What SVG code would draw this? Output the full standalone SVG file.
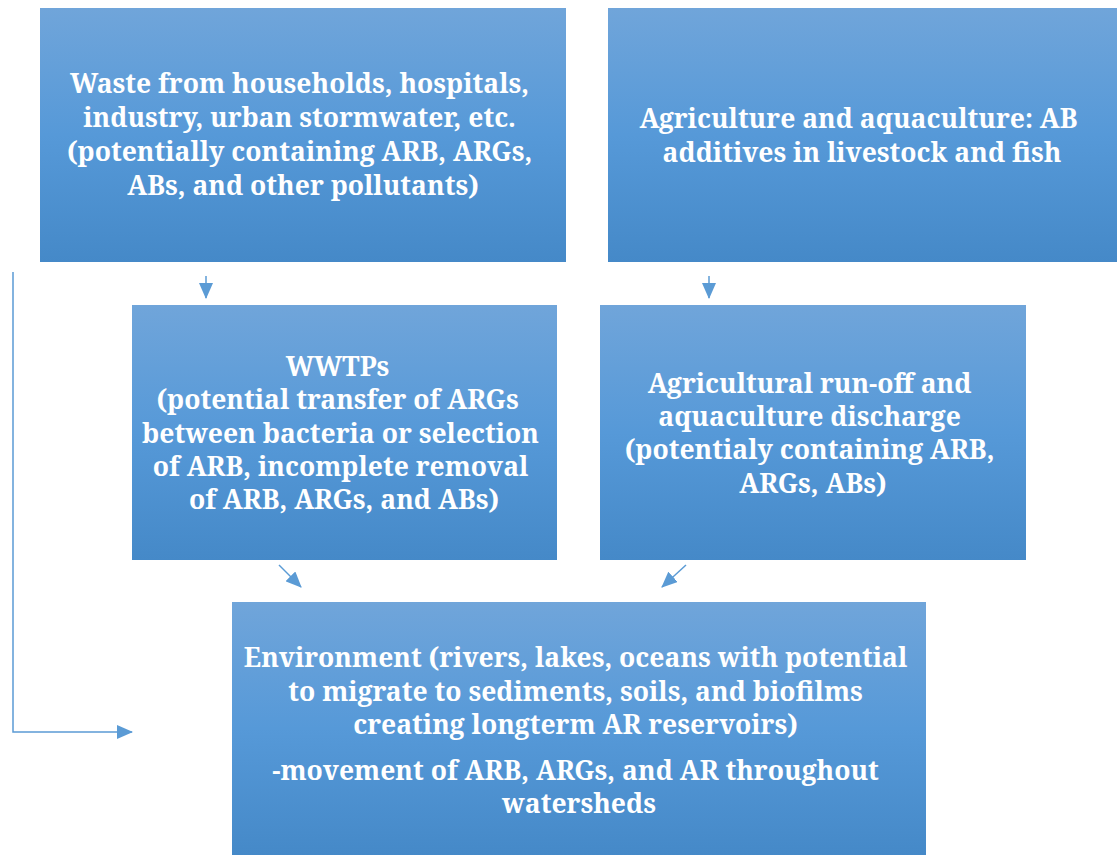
<svg xmlns="http://www.w3.org/2000/svg" width="1119" height="855" viewBox="0 0 1119 855">
  <defs>
    <linearGradient id="boxFill" x1="0" y1="0" x2="0" y2="1">
      <stop offset="0" stop-color="#70a5da"/>
      <stop offset="0.5" stop-color="#5699d8"/>
      <stop offset="1" stop-color="#4589c8"/>
    </linearGradient>
    <marker id="head" viewBox="0 0 16 14" refX="15" refY="7" markerWidth="16" markerHeight="14" markerUnits="userSpaceOnUse" orient="auto">
      <path d="M0,0 L16,7 L0,14 Z" fill="#5b9bd5"/>
    </marker>
    <style>
      .box { fill: url(#boxFill); }
      .label { font-family: "Noto Serif", "Liberation Serif", serif; font-weight: 700; font-size: 26.5px; fill: #ffffff; text-anchor: middle; }
      .conn { fill: none; stroke: #5b9bd5; stroke-width: 1.5; marker-end: url(#head); }
    </style>
  </defs>
  <rect width="1119" height="855" fill="#ffffff"/>

  <g id="connectors">
    <line class="conn" x1="206" y1="276" x2="206" y2="298"/>
    <line class="conn" x1="709" y1="276" x2="709" y2="298"/>
    <line class="conn" x1="279" y1="565" x2="301" y2="587"/>
    <line class="conn" x1="686" y1="565" x2="662" y2="587"/>
    <polyline class="conn" points="13,272 13,732 132,732"/>
  </g>

  <g id="waste-sources">
    <rect class="box" x="40" y="8" width="526" height="254"/>
    <text class="label">
      <tspan x="303" y="93">Waste from households, hospitals,</tspan>
      <tspan x="303" y="127">industry, urban stormwater, etc.</tspan>
      <tspan x="303" y="161">(potentially containing ARB, ARGs,</tspan>
      <tspan x="303" y="195">ABs, and other pollutants)</tspan>
    </text>
  </g>

  <g id="agriculture">
    <rect class="box" x="608" y="8" width="509" height="254"/>
    <text class="label">
      <tspan x="862" y="128">Agriculture and aquaculture: AB</tspan>
      <tspan x="862" y="162">additives in livestock and fish</tspan>
    </text>
  </g>

  <g id="wwtps">
    <rect class="box" x="132" y="305" width="425" height="255"/>
    <text class="label">
      <tspan x="341" y="376">WWTPs</tspan>
      <tspan x="341" y="409"> (potential transfer of ARGs</tspan>
      <tspan x="344" y="443">between bacteria or selection</tspan>
      <tspan x="344" y="476">of ARB, incomplete removal</tspan>
      <tspan x="344" y="509">of ARB, ARGs, and ABs)</tspan>
    </text>
  </g>

  <g id="runoff">
    <rect class="box" x="600" y="305" width="426" height="255"/>
    <text class="label">
      <tspan x="813" y="393">Agricultural run-off and</tspan>
      <tspan x="813" y="426">aquaculture discharge</tspan>
      <tspan x="813" y="459">(potentialy containing ARB,</tspan>
      <tspan x="813" y="493">ARGs, ABs)</tspan>
    </text>
  </g>

  <g id="environment">
    <rect class="box" x="232" y="602" width="694" height="253"/>
    <text class="label">
      <tspan x="579" y="667">Environment (rivers, lakes, oceans with potential</tspan>
      <tspan x="579" y="701">to migrate to sediments, soils, and biofilms</tspan>
      <tspan x="579" y="734">creating longterm AR reservoirs)</tspan>
      <tspan x="579" y="780">-movement of ARB, ARGs, and AR throughout</tspan>
      <tspan x="579" y="813">watersheds</tspan>
    </text>
  </g>
</svg>
